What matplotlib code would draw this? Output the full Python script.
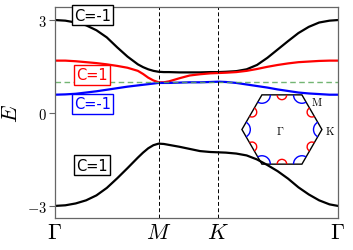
import numpy as np
import matplotlib
matplotlib.use("Agg")
import matplotlib.pyplot as plt
from matplotlib.patches import Arc, Polygon

plt.rcParams['mathtext.fontset'] = 'cm'
plt.rcParams['font.family'] = ['DejaVu Sans']

# path Gamma -> M -> K -> Gamma
k_ticks = [0.0, 1.0, 1.577, 2.732]
k_labels = [r'$\Gamma$', r'$M$', r'$K$', r'$\Gamma$']

k = [0.0, 0.1, 0.2, 0.3, 0.4, 0.5, 0.6, 0.7, 0.8, 0.85, 0.9, 0.95, 1.0, 1.05, 1.1, 1.2,
     1.3, 1.4, 1.5, 1.577, 1.65, 1.75, 1.85, 1.95, 2.05, 2.15, 2.25, 2.35, 2.45, 2.55,
     2.65, 2.732]

band_top = [3.0, 2.98, 2.92, 2.83, 2.67, 2.44, 2.12, 1.82, 1.57, 1.48, 1.41, 1.36, 1.33, 1.32,
            1.32, 1.31, 1.31, 1.31, 1.32, 1.32, 1.33, 1.35, 1.41, 1.55, 1.78, 2.05, 2.32, 2.58,
            2.78, 2.92, 2.98, 3.0]
band_red = [1.69, 1.69, 1.67, 1.64, 1.61, 1.57, 1.52, 1.46, 1.36, 1.26, 1.14, 1.05, 0.99, 0.99,
            1.02, 1.12, 1.21, 1.25, 1.28, 1.29, 1.30, 1.32, 1.36, 1.42, 1.49, 1.55, 1.60, 1.64,
            1.66, 1.68, 1.69, 1.69]
band_blue = [0.59, 0.60, 0.62, 0.66, 0.70, 0.75, 0.80, 0.85, 0.89, 0.91, 0.93, 0.95, 0.97, 0.97,
             0.97, 0.98, 0.99, 0.99, 1.0, 1.01, 1.0, 0.97, 0.92, 0.87, 0.82, 0.76, 0.71, 0.66,
             0.63, 0.61, 0.59, 0.59]
band_bot = [-3.0, -2.98, -2.92, -2.82, -2.66, -2.42, -2.11, -1.78, -1.44, -1.28, -1.14, -1.04,
            -0.99, -1.0, -1.03, -1.09, -1.16, -1.23, -1.26, -1.27, -1.28, -1.31, -1.37, -1.5,
            -1.68, -1.88, -2.12, -2.4, -2.63, -2.82, -2.95, -3.0]

fermi = 1.0

chern_text = ['C=-1', 'C=1', 'C=-1', 'C=1']
chern_color = ['black', 'red', 'blue', 'black']
chern_k = [0.36, 0.36, 0.36, 0.36]
chern_E = [3.16, 1.23, 0.29, -1.68]

fig = plt.figure(figsize=(3.53, 2.51), dpi=100)
ax = fig.add_axes([0.1558, 0.1275, 0.8017, 0.8405])

ax.plot(k, band_top, color='black', lw=1.6)
ax.plot(k, band_red, color='red', lw=1.6)
ax.plot(k, band_blue, color='blue', lw=1.6)
ax.plot(k, band_bot, color='black', lw=1.6)
ax.axhline(fermi, color='#5aa85a', lw=1.0, ls=(0, (4, 2.5)), alpha=0.85)
for kk in k_ticks[1:3]:
    ax.axvline(kk, color='black', lw=0.7, ls=(0, (4, 2.5)))

for t, c, x, y in zip(chern_text, chern_color, chern_k, chern_E):
    ax.text(x, y, t, ha='center', va='center', fontsize=10.5, color=c,
            bbox=dict(boxstyle='square,pad=0.15', fc='white', ec=c, lw=1.0))

ax.set_xlim(k_ticks[0], k_ticks[-1])
ax.set_ylim(-3.39, 3.42)
ax.set_xticks(k_ticks)
ax.set_xticklabels(k_labels, fontsize=16)
ax.set_yticks([-3, 0, 3])
ax.set_yticklabels([r'$-3$', r'$0$', r'$3$'], fontsize=10.5)
ax.tick_params(axis='x', length=0, pad=3)
ax.tick_params(axis='y', length=4, width=0.8, color='0.4', pad=2)
ax.set_ylabel(r'$E$', fontsize=16, labelpad=4)
for s in ax.spines.values():
    s.set_color('0.4')
    s.set_linewidth(0.9)

# Brillouin zone inset
ins = fig.add_axes([0.657, 0.3147, 0.3116, 0.3347])
ins.set_xlim(-1.25, 1.5)
ins.set_ylim(-1.0375, 1.0625)
ins.axis('off')
ins.patch.set_alpha(0)
ang = np.deg2rad(np.arange(0, 360, 60))
verts = np.c_[np.cos(ang), np.sin(ang)]
ins.add_patch(Polygon(verts, closed=True, fill=False, ec='black', lw=1.0))
for th in range(0, 360, 60):
    vx, vy = np.cos(np.deg2rad(th)), np.sin(np.deg2rad(th))
    ins.add_patch(Arc((vx, vy), 0.42, 0.42, theta1=th + 120, theta2=th + 240,
                      color='blue', lw=1.0))
    m = th + 30
    r = np.cos(np.deg2rad(30))
    mx, my = r * np.cos(np.deg2rad(m)), r * np.sin(np.deg2rad(m))
    ins.add_patch(Arc((mx, my), 0.24, 0.24, theta1=m + 90, theta2=m + 270,
                      color='red', lw=1.0))
ins.text(-0.05, 0.0, r'$\Gamma$', fontsize=8, ha='center', va='center')
ins.text(0.88, 0.71, r'$\mathrm{M}$', fontsize=8, ha='center', va='center')
ins.text(1.2, 0.0, r'$\mathrm{K}$', fontsize=8, ha='center', va='center')

fig.savefig('out.png', dpi=100)
